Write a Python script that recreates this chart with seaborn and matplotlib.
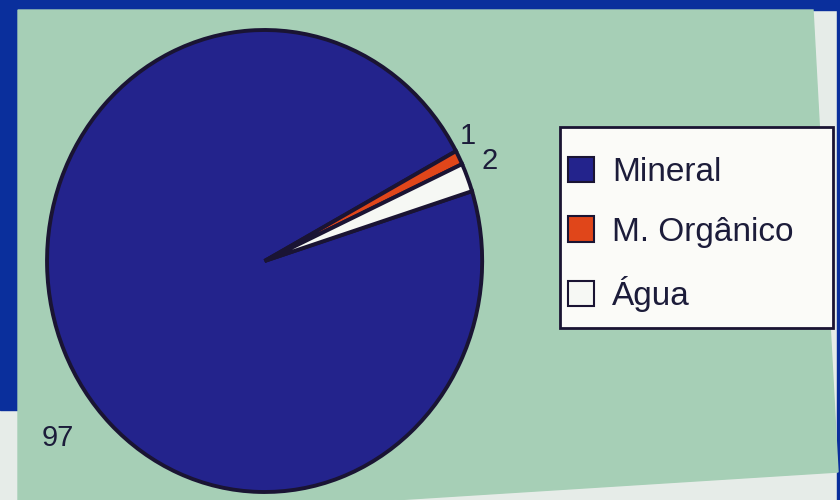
import matplotlib
matplotlib.use("Agg")
import matplotlib.pyplot as plt
import matplotlib.patches as mpatches
import seaborn as sns
import numpy as np

categories = ["Mineral", "M. Orgânico", "Água"]
values = [97, 1, 2]
value_labels = ["97", "1", "2"]
colors = ["#23238c", "#e0461a", "#f6f8f4"]

sns.set_theme(style="white")
plt.rcParams['font.family'] = ['Liberation Sans', 'DejaVu Sans']

W, H = 840, 500
fig = plt.figure(figsize=(8.4, 5.0), dpi=100)
fig.patch.set_facecolor("#e6ece8")


def px(points):
    return [(x / W, 1 - y / H) for x, y in points]


# photographed slide: blue slide edges and the page with green tint
fig.patches.append(mpatches.Polygon(px([(0, 0), (W, 0), (W, 10), (0, 10)]),
                                    transform=fig.transFigure, color="#0a2f9c", zorder=-2))
fig.patches.append(mpatches.Polygon(px([(0, 0), (18, 0), (18, 410), (0, 410)]),
                                    transform=fig.transFigure, color="#0a2f9c", zorder=-2))
fig.patches.append(mpatches.Polygon(px([(837, 0), (W, 0), (W, 500), (837, 500)]),
                                    transform=fig.transFigure, color="#0a2f9c", zorder=-2))
fig.patches.append(mpatches.Polygon(px([(18, 10), (813, 10), (838, 472), (393, 500), (18, 500)]),
                                    transform=fig.transFigure, color="#a6cfb6", zorder=-1))

ax = fig.add_axes([0.056, 0.016, 0.518, 0.924])
ax.set_zorder(1)
wedges, texts = ax.pie(values, colors=colors, startangle=17.6, counterclock=False,
                       wedgeprops=dict(edgecolor="#1a1433", linewidth=2.8),
                       labels=value_labels, labeldistance=1.1,
                       textprops=dict(fontsize=21, color="#1c1c3a"))
ax.set_aspect("auto")
ax.set_xlim(-1.0, 1.0)
ax.set_ylim(-1.0, 1.0)
ax.axis("off")

# label placement (angle in degrees, radial distance) to match the reference
label_pos = {"97": (-141.2, 1.22), "1": (30.2, 1.08), "2": (22.7, 1.12)}
for t, lab in zip(texts, value_labels):
    a, r = label_pos[lab]
    ang = np.deg2rad(a)
    t.set_position((r * np.cos(ang), r * np.sin(ang)))
    t.set_ha("center")
    t.set_va("center")

# legend box
fig.patches.append(mpatches.Polygon(px([(560, 127), (833, 127), (833, 328), (560, 328)]),
                                    transform=fig.transFigure, facecolor="#fbfbf8",
                                    edgecolor="#1a1433", linewidth=2, zorder=1))

handles = [mpatches.Patch(facecolor=c, edgecolor="#1a1433", linewidth=1.5) for c in colors]
leg = fig.legend(handles, categories, loc="upper left", bbox_to_anchor=(568 / W, 1 - 157 / H),
                 fontsize=24, frameon=False, handlelength=0.78,
                 handleheight=0.78, handletextpad=0.55, labelspacing=0.85,
                 borderpad=0, borderaxespad=0)
leg.set_zorder(3)
for t in leg.get_texts():
    t.set_color("#1c1c3a")

fig.savefig("out.png", dpi=100, facecolor=fig.get_facecolor())
